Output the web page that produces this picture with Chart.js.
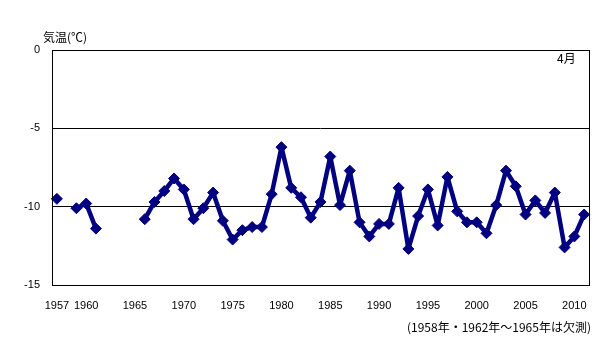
<!DOCTYPE html>
<html><head><meta charset="utf-8">
<script src="https://cdn.jsdelivr.net/npm/chart.js@4/dist/chart.umd.min.js"></script>
<style>html,body{margin:0;padding:0;background:#fff}#wrap{width:605px;height:342px}</style>
</head><body><div id="wrap"><canvas id="c" width="605" height="342"></canvas></div>
<script>
const YEARS = [];
for (let y = 1957; y <= 2011; y++) YEARS.push(y);
const TEMPS = [
  -9.5, null, -10.1, -9.8, -11.4, null, null, null, null,
  -10.8, -9.7, -9.0, -8.2, -8.9, -10.8, -10.1, -9.1, -10.9, -12.1,
  -11.5, -11.3, -11.3, -9.2, -6.2, -8.8, -9.4, -10.7, -9.7, -6.8,
  -9.9, -7.7, -11.0, -11.9, -11.1, -11.1, -8.8, -12.7, -10.6, -8.9,
  -11.2, -8.1, -10.3, -11.0, -11.0, -11.7, -9.9, -7.7, -8.7, -10.5,
  -9.6, -10.4, -9.1, -12.6, -11.9, -10.5
];
const X_TICK_LABELS = [1957, 1960, 1965, 1970, 1975, 1980, 1985, 1990, 1995, 2000, 2005, 2010];
const Y_TICKS = [0, -5, -10, -15];
const TITLE_Y = '気温(℃)';
const MONTH_LABEL = '4月';
const NOTE = '(1958年・1962年～1965年は欠測)';

const FONT = '"Liberation Sans", "Noto Sans CJK JP", sans-serif';
Chart.defaults.font.family = FONT;
Chart.defaults.font.size = 11;
Chart.defaults.color = '#000';

const textPlugin = {
  id: 'texts',
  afterDraw(chart) {
    const ctx = chart.ctx, a = chart.chartArea;
    ctx.save();
    ctx.strokeStyle = '#000';
    ctx.lineWidth = 1;
    ctx.strokeRect(Math.round(a.left) + 0.5, Math.round(a.top) + 0.5, Math.round(a.right - a.left), Math.round(a.bottom - a.top));
    ctx.fillStyle = '#000';
    ctx.font = '12px "Noto Sans CJK JP", sans-serif';
    ctx.textBaseline = 'middle';
    ctx.textAlign = 'left';
    ctx.fillText(TITLE_Y, 43, 37);
    ctx.fillText(MONTH_LABEL, 557, 58);
    ctx.textAlign = 'right';
    ctx.font = '12px "Noto Sans CJK JP", sans-serif';
    ctx.fillText(NOTE, 591, 327);
    ctx.restore();
  }
};

new Chart(document.getElementById('c'), {
  type: 'line',
  data: {
    labels: YEARS,
    datasets: [{
      data: TEMPS,
      borderColor: '#000080',
      backgroundColor: '#000080',
      borderWidth: 4.5,
      borderJoinStyle: 'round',
      borderCapStyle: 'round',
      pointStyle: 'rectRot',
      pointRadius: 5.5,
      pointBorderWidth: 1,
      pointBorderColor: '#000080',
      pointBackgroundColor: '#000080',
      spanGaps: false,
      tension: 0
    }]
  },
  options: {
    responsive: false,
    animation: false,
    devicePixelRatio: 1,
    layout: { padding: { top: 50, right: 16, left: 0, bottom: 0 } },
    plugins: { legend: { display: false }, tooltip: { enabled: false } },
    scales: {
      x: {
        type: 'category',
        offset: true,
        grid: { display: false, drawTicks: false },
        border: { display: false },
        ticks: {
          autoSkip: false, maxRotation: 0, minRotation: 0, padding: 14,
          callback: function(v, i) { const y = YEARS[i]; return X_TICK_LABELS.includes(y) ? String(y) : ''; }
        },
        afterFit(s) { s.height = 57; }
      },
      y: {
        min: -15, max: 0,
        afterBuildTicks(s) { s.ticks = Y_TICKS.map(v => ({ value: v })); },
        grid: {
          color: (c) => (c.tick && (c.tick.value === 0 || c.tick.value === -15)) ? 'rgba(0,0,0,0)' : '#000',
          lineWidth: 1, drawTicks: false
        },
        border: { display: false },
        ticks: { padding: 12 },
        afterFit(s) { s.width = 52; }
      }
    }
  },
  plugins: [textPlugin]
});
</script></body></html>
